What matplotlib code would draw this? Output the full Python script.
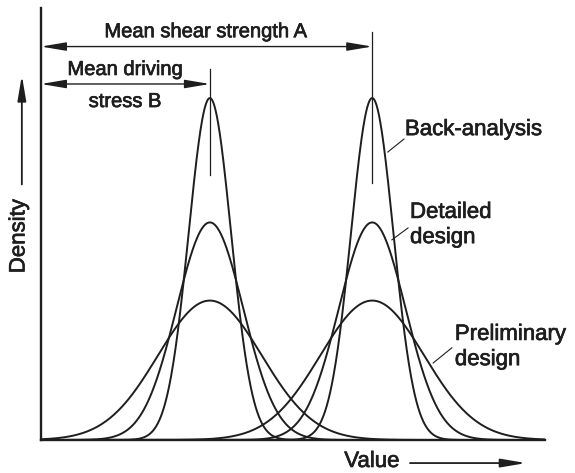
import numpy as np
import matplotlib.pyplot as plt
import matplotlib.patheffects as pe

plt.rcParams['font.family'] = ['Liberation Sans', 'DejaVu Sans']

#------------------------------------------------------------------------------
# Data
#------------------------------------------------------------------------------
means  = [3.35, 6.57]                 # mean driving stress B, mean shear strength A
sigmas = [0.42, 0.66, 1.03]           # back-analysis, detailed, preliminary
stages = [['Back-analysis'], ['Detailed', 'design'], ['Preliminary', 'design']]

ink  = '#1e1e1e'
bold = [pe.withStroke(linewidth=0.5, foreground=ink)]

#------------------------------------------------------------------------------
# Plot
#------------------------------------------------------------------------------
fig = plt.figure(figsize=(5.75, 4.73), dpi=100)
ax  = fig.add_axes([0.0713, 0.0698, 0.8767, 0.9132])

x = np.linspace(0, 10, 1200)
for mu in means:
    for s in sigmas:
        y = np.exp(-0.5 * ((x - mu) / s) ** 2) / (s * np.sqrt(2 * np.pi))
        ax.plot(x, y, color=ink, lw=1.4)

ax.set_xlim(0, 10)
ax.set_ylim(0, 1.2)
ax.set_xticks([])
ax.set_yticks([])
for sp in ['top', 'right']:
    ax.spines[sp].set_visible(False)
for sp in ['left', 'bottom']:
    ax.spines[sp].set_linewidth(1.7)
    ax.spines[sp].set_color(ink)

mu_b, mu_a = means

# mean lines
ax.plot([mu_a, mu_a], [0.714, 1.133], color=ink, lw=0.9)
ax.plot([mu_b, mu_b], [0.736, 1.03], color=ink, lw=0.9)

arrow = dict(arrowstyle='<|-|>,head_length=1.9,head_width=0.32',
             color=ink, lw=1.0, mutation_scale=8, shrinkA=0, shrinkB=0)
ax.annotate('', xy=(0, 1.093), xytext=(mu_a, 1.093), arrowprops=arrow,
            annotation_clip=False)
ax.annotate('', xy=(0, 0.989), xytext=(mu_b, 0.989), arrowprops=arrow,
            annotation_clip=False)

top_fs = 14.5
ax.text(3.27, 1.119, 'Mean shear strength A', fontsize=top_fs, color=ink,
        ha='center', va='baseline', path_effects=bold)
ax.text(1.67, 1.014, 'Mean driving', fontsize=top_fs, color=ink,
        ha='center', va='baseline', path_effects=bold)
ax.text(1.67, 0.925, 'stress B', fontsize=top_fs, color=ink,
        ha='center', va='baseline', path_effects=bold)

# stage labels with leader lines
lab_fs     = 16
label_x    = [7.22, 7.32, 8.21]
label_y    = [0.847, 0.617, 0.278]
line_step  = 0.07
leader_pos = [((6.88, 0.80), (7.20, 0.836)),
              ((6.96, 0.556), (7.28, 0.589)),
              ((7.78, 0.214), (8.15, 0.256))]
for lines, tx, ty, (p0, p1) in zip(stages, label_x, label_y, leader_pos):
    for k, line in enumerate(lines):
        ax.text(tx, ty - k * line_step, line, fontsize=lab_fs, color=ink,
                ha='left', va='baseline', path_effects=bold)
    ax.plot([p0[0], p1[0]], [p0[1], p1[1]], color=ink, lw=0.8)

# axis labels with arrows
fig.text(0.033, 0.501, 'Density', fontsize=lab_fs, color=ink, rotation=90,
         ha='center', va='center', path_effects=bold)
fig.text(0.647, 0.0127, 'Value', fontsize=lab_fs, color=ink,
         ha='center', va='baseline', path_effects=bold)
fig_arrow = dict(arrowstyle='-|>,head_length=1.9,head_width=0.32',
                 color=ink, lw=1.3, mutation_scale=8, shrinkA=0, shrinkB=0)
ax.annotate('', xy=(0.038, 0.841), xytext=(0.038, 0.61),
            xycoords='figure fraction', textcoords='figure fraction',
            arrowprops=fig_arrow)
ax.annotate('', xy=(0.915, 0.021), xytext=(0.713, 0.021),
            xycoords='figure fraction', textcoords='figure fraction',
            arrowprops=fig_arrow)

plt.savefig('out.png', dpi=100)
